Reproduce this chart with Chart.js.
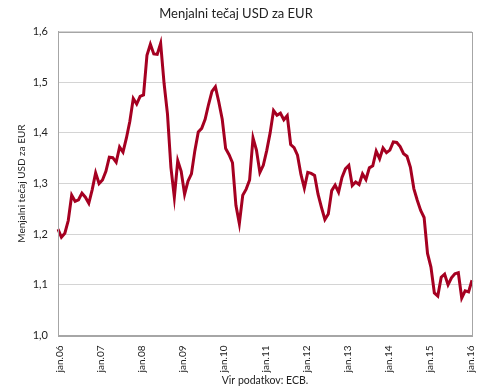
<!DOCTYPE html>
<html>
<head>
<meta charset="utf-8">
<script src="https://cdn.jsdelivr.net/npm/chart.js@4/dist/chart.umd.min.js"></script>
<style>
  html, body { margin: 0; padding: 0; background: #fff; }
  #wrap { width: 490px; height: 389px; }
</style>
</head>
<body>
<div id="wrap"><canvas id="rateChart" width="490" height="389"></canvas></div>
<script>
// mesečni podatki jan.06 - feb.16
const years = ['06', '07', '08', '09', '10', '11', '12', '13', '14', '15', '16'];
const monthNames = ['jan', 'feb', 'mar', 'apr', 'maj', 'jun', 'jul', 'avg', 'sep', 'okt', 'nov', 'dec'];

const rates2006 = [1.210, 1.194, 1.202, 1.227, 1.277, 1.265, 1.268, 1.281, 1.273, 1.261, 1.288, 1.321];
const rates2007 = [1.300, 1.307, 1.324, 1.352, 1.351, 1.342, 1.372, 1.362, 1.390, 1.423, 1.468, 1.457];
const rates2008 = [1.472, 1.475, 1.553, 1.575, 1.556, 1.555, 1.577, 1.498, 1.437, 1.332, 1.273, 1.345];
const rates2009 = [1.324, 1.279, 1.305, 1.319, 1.365, 1.402, 1.409, 1.427, 1.456, 1.482, 1.491, 1.461];
const rates2010 = [1.427, 1.369, 1.357, 1.341, 1.257, 1.221, 1.277, 1.289, 1.307, 1.390, 1.366, 1.322];
const rates2011 = [1.336, 1.365, 1.400, 1.444, 1.435, 1.439, 1.426, 1.434, 1.377, 1.371, 1.356, 1.318];
const rates2012 = [1.291, 1.322, 1.320, 1.316, 1.279, 1.253, 1.229, 1.240, 1.286, 1.297, 1.283, 1.312];
const rates2013 = [1.329, 1.336, 1.296, 1.303, 1.298, 1.319, 1.308, 1.331, 1.335, 1.364, 1.349, 1.370];
const rates2014 = [1.361, 1.366, 1.382, 1.381, 1.373, 1.359, 1.354, 1.332, 1.290, 1.267, 1.247, 1.233];
const rates2015 = [1.162, 1.135, 1.084, 1.078, 1.115, 1.121, 1.100, 1.114, 1.122, 1.124, 1.074, 1.088];
const rates2016 = [1.086, 1.109];

const rates = [].concat(rates2006, rates2007, rates2008, rates2009, rates2010,
    rates2011, rates2012, rates2013, rates2014, rates2015, rates2016);

// oznake mesecev, na osi se izpiše samo januar
const labels = [];
years.forEach((y) => {
    monthNames.forEach((m) => labels.push(m + '.' + y));
});
labels.length = rates.length;

const yTicks = [1.0, 1.1, 1.2, 1.3, 1.4, 1.5, 1.6];

const FONT = 'Lato, "Open Sans", sans-serif';

// okvir okrog risalne površine
const frame = {
    id: 'frame',
    afterDraw(chart) {
        const {ctx, chartArea: a} = chart;
        ctx.save();
        ctx.strokeStyle = '#a6a6a6';
        ctx.lineWidth = 1;
        ctx.strokeRect(Math.round(a.left) + 0.5, Math.round(a.top) + 0.5,
            Math.round(a.right - a.left), Math.round(a.bottom - a.top));
        ctx.restore();
    }
};

new Chart(document.getElementById('rateChart'), {
    type: 'line',
    data: {
        labels: labels,
        datasets: [{
            data: rates,
            borderColor: '#a50021',
            borderWidth: 3,
            pointRadius: 0,
            tension: 0,
            fill: false,
        }],
    },
    options: {
        responsive: false,
        animation: false,
        layout: {padding: {left: 0, right: 18, top: 6, bottom: 2}},
        plugins: {
            legend: {display: false},
            tooltip: {enabled: false},
            title: {
                display: true,
                text: 'Menjalni tečaj USD za EUR',
                color: '#222',
                font: {family: FONT, size: 13, weight: 'normal'},
                padding: {top: 0, bottom: 10},
            },
        },
        scales: {
            x: {
                offset: false,
                grid: {display: false},
                border: {color: '#a6a6a6'},
                ticks: {
                    autoSkip: false,
                    maxRotation: 90,
                    minRotation: 90,
                    padding: 2,
                    labelOffset: 2,
                    color: '#222',
                    font: {family: FONT, size: 10},
                    callback: function (val, i) {
                        return i % 12 === 0 ? labels[i] : null;
                    },
                },
                title: {
                    display: true,
                    text: 'Vir podatkov: ECB.',
                    color: '#222',
                    font: {family: FONT, size: 10.5},
                    padding: {top: 0, bottom: 0},
                },
            },
            y: {
                min: 1.0,
                max: 1.6,
                afterBuildTicks: (axis) => {
                    axis.ticks = yTicks.map((v) => ({value: v}));
                },
                afterFit: (axis) => {
                    axis.width = 58;
                },
                grid: {
                    color: '#d4d4d4',
                    borderDash: [1, 1],
                    drawTicks: false,
                },
                border: {color: '#a6a6a6'},
                ticks: {
                    padding: 10,
                    color: '#222',
                    font: {family: FONT, size: 11},
                    callback: (v) => v.toFixed(1).replace('.', ','),
                },
                title: {
                    display: true,
                    text: 'Menjalni tečaj USD za EUR',
                    color: '#222',
                    font: {family: FONT, size: 10},
                    padding: {top: 16, bottom: 0},
                },
            },
        },
    },
    plugins: [frame],
});
</script>
</body>
</html>
